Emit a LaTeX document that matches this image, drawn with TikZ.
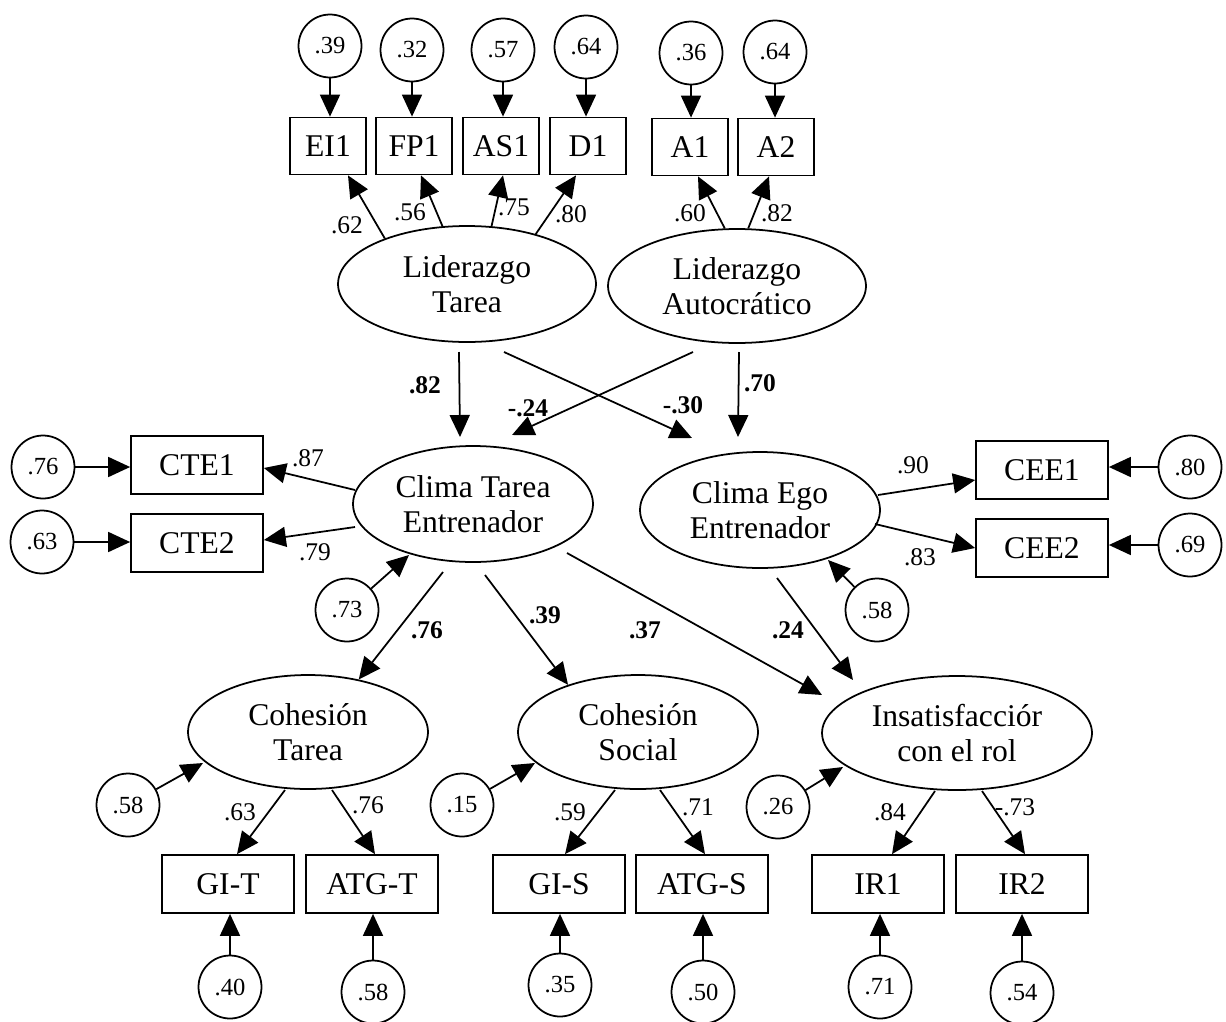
\documentclass[tikz,border=0pt]{standalone}
\usepackage{fontspec}
\setmainfont{Liberation Serif}
\usetikzlibrary{shapes.geometric,arrows.meta}

\begin{document}
\begin{tikzpicture}[x=0.02cm,y=-0.02cm,line width=1pt,>={Triangle[length=0.44cm,width=0.4cm]},
  latent/.style={ellipse,draw,inner sep=0pt,align=center,minimum width=4.8cm,minimum height=2.32cm,font=\fontsize{18}{19.8}\selectfont},
  ind/.style={rectangle,draw,inner sep=0pt,minimum width=2.64cm,minimum height=1.16cm,font=\fontsize{18}{19.8}\selectfont},
  topind/.style={ind,minimum width=1.52cm,minimum height=1.14cm},
  err/.style={circle,draw,inner sep=0pt,minimum size=1.26cm,font=\fontsize{14}{15}\selectfont},
  coef/.style={inner sep=0pt,font=\fontsize{14.5}{15}\selectfont},
  bcoef/.style={inner sep=0pt,font=\fontsize{14.5}{16}\selectfont\bfseries}]
\useasboundingbox (0,0) rectangle (1226,1021);

% variables latentes
\node[latent,minimum width=5.16cm] (LT) at (467,284) {Liderazgo\\Tarea};
\node[latent,minimum width=5.16cm,minimum height=2.28cm] (LA) at (737,286) {Liderazgo\\Autocrático};
\node[latent] (CT) at (473,504) {Clima Tarea\\Entrenador};
\node[latent] (CE) at (760,510) {Clima Ego\\Entrenador};
\node[latent,minimum height=2.28cm] (CohT) at (308,732) {Cohesión\\Tarea};
\node[latent,minimum height=2.28cm] (CohS) at (638,732) {Cohesión\\Social};
\node[latent,minimum width=5.4cm,minimum height=2.28cm] (Ins) at (957,733) {Insatisfacciór\\con el rol};

% indicadores de liderazgo
\node[topind] (EI1) at (328,146) {EI1};
\node[topind] (FP1) at (414,146) {FP1};
\node[topind] (AS1) at (501,146) {AS1};
\node[topind] (D1) at (588,146) {D1};
\node[topind] (A1) at (690,147) {A1};
\node[topind] (A2) at (776,147) {A2};
\node[err] (eEI1) at (330,46) {.39};
\node[err] (eFP1) at (412,50) {.32};
\node[err] (eAS1) at (503,50) {.57};
\node[err] (eD1) at (586,47) {.64};
\node[err] (eA1) at (691,53) {.36};
\node[err] (eA2) at (775,52) {.64};

% indicadores de clima
\node[ind] (CTE1) at (197,465) {CTE1};
\node[ind] (CTE2) at (197,543) {CTE2};
\node[ind] (CEE1) at (1042,470) {CEE1};
\node[ind] (CEE2) at (1042,548) {CEE2};
\node[err] (e76) at (43,467) {.76};
\node[err] (e63) at (42,542) {.63};
\node[err] (e80) at (1190,467) {.80};
\node[err] (e69) at (1190,545) {.69};
\node[err] (eCT) at (347,610) {.73};
\node[err] (eCE) at (877,610) {.58};

% indicadores de cohesion e insatisfaccion
\node[ind] (GIT) at (228,884) {GI-T};
\node[ind] (ATGT) at (372,884) {ATG-T};
\node[ind] (GIS) at (559,884) {GI-S};
\node[ind] (ATGS) at (702,884) {ATG-S};
\node[ind] (IR1) at (878,884) {IR1};
\node[ind] (IR2) at (1022,884) {IR2};
\node[err] (eGIT) at (230,987) {.40};
\node[err] (eATGT) at (373,992) {.58};
\node[err] (eGIS) at (560,985) {.35};
\node[err] (eATGS) at (703,992) {.50};
\node[err] (eIR1) at (880,987) {.71};
\node[err] (eIR2) at (1022,993) {.54};
\node[err] (eCohT) at (128,805) {.58};
\node[err] (eCohS) at (462,805) {.15};
\node[err] (eIns) at (778,807) {.26};

% errores
\draw[->] (eEI1) -- (eEI1 |- EI1.north);
\draw[->] (eFP1) -- (eFP1 |- FP1.north);
\draw[->] (eAS1) -- (eAS1 |- AS1.north);
\draw[->] (eD1) -- (eD1 |- D1.north);
\draw[->] (eA1) -- (eA1 |- A1.north);
\draw[->] (eA2) -- (eA2 |- A2.north);
\draw[->] (e76) -- (e76 -| CTE1.west);
\draw[->] (e63) -- (e63 -| CTE2.west);
\draw[->] (e80) -- (e80 -| CEE1.east);
\draw[->] (e69) -- (e69 -| CEE2.east);
\draw[->] (eGIT) -- (eGIT |- GIT.south);
\draw[->] (eATGT) -- (eATGT |- ATGT.south);
\draw[->] (eGIS) -- (eGIS |- GIS.south);
\draw[->] (eATGS) -- (eATGS |- ATGS.south);
\draw[->] (eIR1) -- (eIR1 |- IR1.south);
\draw[->] (eIR2) -- (eIR2 |- IR2.south);
\draw[->] (eCT) -- ([shift={(-64,51)}]CT.center);
\draw[->] (eCE) -- ([shift={(68,50)}]CE.center);
\draw[->] (eCohT) -- ([shift={(-105,31)}]CohT.center);
\draw[->] (eCohS) -- ([shift={(-103,31)}]CohS.center);
\draw[->] (eIns) -- ([shift={(-114,34)}]Ins.center);

% cargas
\draw[->] (LT.151) -- ([xshift=0.4cm]EI1.south);
\draw[->] (LT.113) -- ([xshift=0.14cm]FP1.south);
\draw[->] (LT.67) -- ([xshift=0.04cm]AS1.south);
\draw[->] (LT.36) -- ([xshift=-0.24cm]D1.south);
\draw[->] (LA.102) -- ([xshift=0.16cm]A1.south);
\draw[->] (LA.79) -- ([xshift=-0.14cm]A2.south);
\draw[->] ([shift={(-118,-14)}]CT.center) -- ([shift={(0,3)}]CTE1.east);
\draw[->] ([shift={(-118,23)}]CT.center) -- ([shift={(0,-3)}]CTE2.east);
\draw[->] ([shift={(118,-15)}]CE.center) -- ([shift={(0,10)}]CEE1.west);
\draw[->] ([shift={(115,14)}]CE.center) -- (CEE2.west);
\draw[->] ([shift={(-23,58)}]CohT.center) -- ([xshift=0.18cm]GIT.north);
\draw[->] ([shift={(24,58)}]CohT.center) -- ([xshift=0.06cm]ATGT.north);
\draw[->] ([shift={(-23,58)}]CohS.center) -- ([xshift=0.12cm]GIS.north);
\draw[->] ([shift={(22,58)}]CohS.center) -- ([xshift=0.06cm]ATGS.north);
\draw[->] ([shift={(-22,58)}]Ins.center) -- ([xshift=0.28cm]IR1.north);
\draw[->] ([shift={(25,58)}]Ins.center) -- ([xshift=0.06cm]IR2.north);

% relaciones estructurales
\draw[->] ([shift={(-8,68)}]LT.center) -- ([shift={(-13,-67)}]CT.center);
\draw[->] ([shift={(37,68)}]LT.center) -- ([shift={(-68,-72)}]CE.center);
\draw[->] ([shift={(-44,66)}]LA.center) -- ([shift={(39,-69)}]CT.center);
\draw[->] ([shift={(2,66)}]LA.center) -- ([shift={(-22,-73)}]CE.center);
\draw[->] ([shift={(-30,68)}]CT.center) -- (CohT.46);
\draw[->] ([shift={(12,71)}]CT.center) -- (CohS.146);
\draw[->] ([shift={(94,49)}]CT.center) -- ([shift={(-135,-38)}]Ins.center);
\draw[->] ([shift={(17,68)}]CE.center) -- ([shift={(-104,-53)}]Ins.center);

% coeficientes
\node[coef] (lEI1) at (347,225) {.62};
\node[coef] (lFP1) at (410,212) {.56};
\node[coef] (lAS1) at (514,207) {.75};
\node[coef] (lD1) at (571,214) {.80};
\node[coef] (lA1) at (690,213) {.60};
\node[coef] (lA2) at (777,213) {.82};
\node[coef] (lCTE1) at (308,458) {.87};
\node[coef] (lCTE2) at (315,552) {.79};
\node[coef] (lCEE1) at (913,465) {.90};
\node[coef] (lCEE2) at (920,557) {.83};
\node[coef] (lGIT) at (240,812) {.63};
\node[coef] (lATGT) at (368,805) {.76};
\node[coef] (lGIS) at (570,812) {.59};
\node[coef] (lATGS) at (698,807) {.71};
\node[coef] (lIR1) at (890,812) {.84};
\node[coef] (lIR2) at (1015,807) {-.73};
\node[bcoef] (bLTCT) at (425,385) {.82};
\node[bcoef] (bLACT) at (528,408) {-.24};
\node[bcoef] (bLTCE) at (683,405) {-.30};
\node[bcoef] (bLACE) at (760,383) {.70};
\node[bcoef] (bCTCohT) at (427,630) {.76};
\node[bcoef] (bCTCohS) at (545,615) {.39};
\node[bcoef] (bCTIns) at (645,630) {.37};
\node[bcoef] (bCEIns) at (788,630) {.24};
\end{tikzpicture}
\end{document}
